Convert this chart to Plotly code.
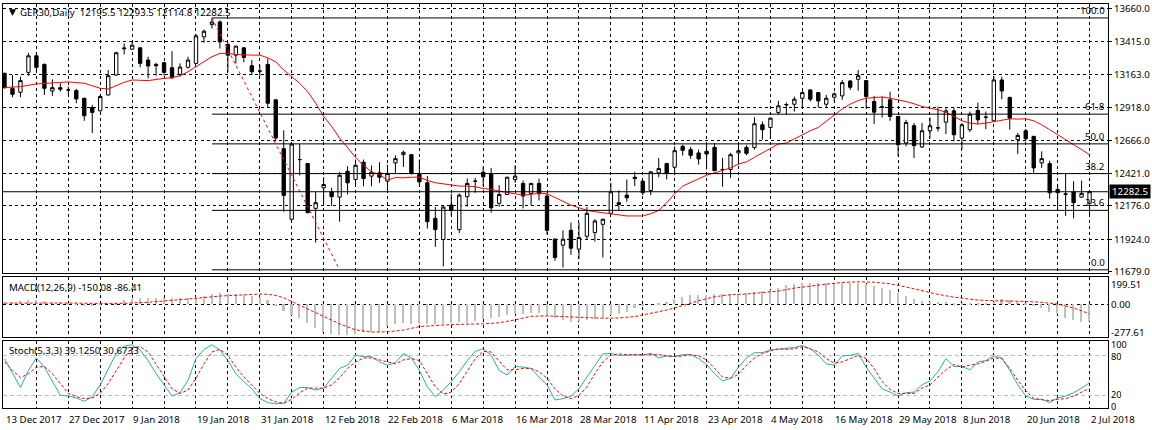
import plotly.graph_objects as go
from plotly.subplots import make_subplots

# ---------------- data ----------------
x_labels = ["13 Dec 2017", "27 Dec 2017", "9 Jan 2018", "19 Jan 2018", "31 Jan 2018",
            "12 Feb 2018", "22 Feb 2018", "6 Mar 2018", "16 Mar 2018", "28 Mar 2018",
            "11 Apr 2018", "23 Apr 2018", "4 May 2018", "16 May 2018", "29 May 2018",
            "8 Jun 2018", "20 Jun 2018", "2 Jul 2018"]
label_bars = [0, 8, 16, 24, 32, 40, 48, 56, 64, 72, 80, 88, 96, 104, 112, 120, 128, 136]

opens = [13175, 13062, 13032, 13182, 13307, 13242, 13042, 13067, 13050, 13045,
         12987, 12917, 12892, 13012, 13162, 13360, 13357, 13367, 13275, 13242,
         13255, 13217, 13167, 13220, 13250, 13450, 13542, 13562, 13392, 13312,
         13367, 13232, 13192, 13242, 12975, 12607, 12075, 12525, 12495, 12157,
         12312, 12280, 12242, 12437, 12375, 12505, 12400, 12425, 12362, 12500,
         12562, 12562, 12412, 12350, 12082, 11922, 12182, 11997, 12245, 12362,
         12430, 12420, 12195, 12262, 12375, 12345, 12270, 12345, 12250, 11925,
         11880, 11992, 11850, 11947, 11975, 12037, 12120, 12200, 12257, 12392,
         12362, 12292, 12425, 12495, 12467, 12625, 12600, 12575, 12587, 12617,
         12450, 12450, 12575, 12617, 12617, 12787, 12767, 12880, 12937, 12942,
         12987, 13050, 13030, 12942, 12995, 13005, 13117, 13130, 13120, 12962,
         12920, 12975, 12850, 12650, 12780, 12620, 12742, 12762, 12807, 12892,
         12687, 12750, 12895, 12842, 12817, 13125, 12992, 12675, 12742, 12700,
         12500, 12495, 12300, 12262, 12282, 12242, 12195.5]
highs = [13180, 13162, 13150, 13330, 13332, 13250, 13130, 13100, 13075, 13057,
         12990, 12937, 13012, 13200, 13337, 13400, 13412, 13370, 13300, 13255,
         13260, 13342, 13250, 13300, 13470, 13505, 13592, 13575, 13407, 13382,
         13370, 13275, 13237, 13287, 12982, 12745, 12645, 12642, 12500, 12282,
         12392, 12312, 12432, 12475, 12525, 12525, 12480, 12505, 12487, 12557,
         12592, 12567, 12525, 12400, 12167, 12182, 12267, 12270, 12382, 12387,
         12470, 12462, 12332, 12395, 12482, 12367, 12350, 12382, 12275, 11932,
         11992, 12050, 12050, 12167, 12075, 12080, 12350, 12292, 12375, 12432,
         12365, 12437, 12537, 12500, 12625, 12637, 12620, 12600, 12650, 12650,
         12537, 12575, 12657, 12632, 12845, 12812, 12842, 12967, 12955, 13000,
         13042, 13052, 13032, 13012, 13032, 13125, 13125, 13200, 13122, 13005,
         13000, 13037, 12855, 12825, 12800, 12800, 12842, 12925, 12912, 12917,
         12800, 12887, 12955, 12887, 13157, 13150, 13000, 12725, 12755, 12702,
         12587, 12517, 12342, 12425, 12362, 12367, 12293.5]
lows = [13060, 12995, 12995, 13157, 13182, 13012, 13005, 13037, 13017, 12950,
        12817, 12725, 12887, 13007, 13157, 13317, 13350, 13220, 13137, 13157,
        13157, 13132, 13150, 13212, 13245, 13405, 13512, 13362, 13182, 13250,
        13257, 13162, 13150, 12917, 12667, 12132, 12067, 12405, 12120, 11900,
        12187, 12175, 12057, 12262, 12337, 12325, 12325, 12350, 12275, 12425,
        12470, 12412, 12325, 12005, 11867, 11720, 12100, 11970, 12170, 12275,
        12325, 12125, 12170, 12257, 12350, 12157, 12182, 12217, 11962, 11762,
        11712, 11807, 11775, 11922, 11907, 11787, 12112, 12142, 12207, 12325,
        12257, 12257, 12392, 12375, 12412, 12555, 12530, 12487, 12450, 12437,
        12320, 12387, 12487, 12557, 12600, 12675, 12687, 12862, 12862, 12887,
        12912, 12962, 12917, 12912, 12962, 12975, 13050, 13045, 12912, 12792,
        12842, 12817, 12550, 12625, 12537, 12612, 12687, 12737, 12717, 12662,
        12600, 12732, 12792, 12755, 12812, 12980, 12750, 12567, 12667, 12425,
        12462, 12230, 12145, 12100, 12082, 12237, 12114.8]
closes = [13067, 13017, 13120, 13307, 13220, 13062, 13067, 13055, 13050, 12982,
          12855, 12880, 13000, 13157, 13330, 13365, 13387, 13250, 13230, 13232,
          13182, 13142, 13222, 13275, 13457, 13492, 13562, 13412, 13312, 13380,
          13295, 13187, 13192, 12950, 12687, 12255, 12642, 12525, 12125, 12200,
          12337, 12245, 12407, 12350, 12482, 12382, 12430, 12392, 12420, 12532,
          12580, 12420, 12357, 12057, 11997, 12167, 12142, 12257, 12345, 12362,
          12395, 12162, 12262, 12392, 12400, 12250, 12345, 12267, 11992, 11787,
          11925, 11857, 11937, 12120, 12062, 12075, 12282, 12187, 12237, 12382,
          12275, 12432, 12457, 12420, 12592, 12595, 12557, 12530, 12567, 12442,
          12450, 12562, 12592, 12572, 12795, 12750, 12837, 12930, 12940, 12980,
          13030, 12980, 12967, 12987, 13020, 13105, 13070, 13157, 13000, 12882,
          12922, 12850, 12637, 12805, 12630, 12742, 12780, 12765, 12892, 12712,
          12787, 12867, 12825, 12845, 13125, 13042, 12837, 12707, 12682, 12462,
          12532, 12275, 12275, 12265, 12200, 12270, 12282.5]

ma_idx = [0, 2, 4, 6, 8, 10, 12, 13, 14, 15, 16, 18, 20, 21, 22, 23, 24, 25, 26, 27,
          28, 29, 30, 31, 32, 33, 34, 35, 36, 37, 38, 39, 40, 41, 42, 43, 44, 45, 46, 47,
          48, 49, 50, 51, 52, 53, 54, 55, 56, 57, 58, 59, 60, 61, 62, 63, 64, 65, 66, 67,
          68, 69, 70, 71, 72, 73, 74, 75, 76, 77, 78, 79, 80, 81, 82, 83, 84, 85, 86, 87,
          88, 89, 90, 91, 92, 93, 94, 95, 96, 97, 98, 99, 100, 101, 102, 103, 104, 105, 106, 107,
          108, 109, 110, 111, 112, 113, 114, 115, 116, 117, 118, 119, 120, 121, 122, 123, 124, 125, 126, 127,
          128, 129, 130, 131, 132, 133, 134, 135, 136]
ma_val = [13067, 13075, 13095, 13105, 13110, 13100, 13062, 13057, 13082, 13107, 13125, 13120, 13137, 13142, 13157, 13187, 13225, 13262, 13300, 13325,
          13325, 13317, 13312, 13312, 13312, 13292, 13262, 13200, 13150, 13100, 13037, 12950, 12850, 12775, 12687, 12612, 12542, 12482, 12432, 12412,
          12370, 12390, 12387, 12392, 12392, 12367, 12350, 12342, 12332, 12325, 12325, 12320, 12307, 12300, 12287, 12275, 12267, 12257, 12262, 12270,
          12267, 12237, 12212, 12182, 12162, 12142, 12132, 12125, 12117, 12112, 12100, 12100, 12100, 12117, 12142, 12200, 12267, 12325, 12350, 12380,
          12407, 12425, 12442, 12462, 12492, 12507, 12542, 12575, 12612, 12642, 12650, 12682, 12712, 12742, 12767, 12812, 12862, 12907, 12942, 12970,
          12987, 12992, 12997, 12987, 12975, 12962, 12945, 12925, 12912, 12900, 12882, 12850, 12817, 12800, 12792, 12800, 12812, 12825, 12832, 12830,
          12832, 12817, 12787, 12750, 12712, 12675, 12637, 12600, 12562]

macd_main = [20, 25, 28, 35, 35, 29, 25, 23, 15, 5,
             -10, -17, -12, 0, 15, 35, 44, 53, 58, 58,
             58, 53, 58, 53, 64, 73, 88, 96, 93, 88,
             79, 73, 64, 35, -10, -60, -93, -117, -160, -210,
             -242, -263, -272, -272, -263, -248, -248, -245, -190, -175,
             -160, -175, -175, -170, -175, -170, -160, -155, -160, -146,
             -131, -117, -111, -96, -88, -82, -79, -79, -102, -123,
             -140, -152, -146, -140, -131, -117, -96, -82, -64, -35,
             -15, 0, 15, 23, 44, 64, 79, 82, 79, 88,
             93, 93, 93, 102, 111, 117, 131, 146, 168, 182,
             190, 190, 190, 190, 184, 190, 190, 190, 181, 160,
             146, 126, 102, 73, 50, 29, 23, 20, 20, 12,
             9, 12, 6, 15, 23, 44, 38, 23, 9, -6,
             -29, -67, -88, -123, -140, -152, -150.08]
signal_idx = [0, 3, 6, 9, 12, 15, 18, 21, 24, 27, 30, 32, 33, 34, 35, 36, 37, 38, 40, 42,
              44, 46, 48, 50, 52, 56, 60, 62, 64, 66, 68, 70, 72, 75, 77, 79, 81, 83, 85, 87,
              89, 91, 93, 95, 97, 99, 101, 103, 105, 107, 109, 111, 113, 115, 117, 119, 120, 122, 124, 126,
              128, 130, 132, 134, 136]
signal_val = [8, 9, 10, 8, 5, 6, 15, 30, 50, 70, 83, 88, 86, 75, 55, 25, -10, -44, -110, -175,
              -228, -248, -245, -230, -199, -181, -175, -165, -140, -108, -105, -108, -117, -126, -123, -111, -82, -53, -15, 29,
              64, 82, 88, 102, 114, 140, 160, 175, 190, 196, 192, 178, 150, 115, 85, 60, 53, 35, 29, 29,
              23, 15, 0, -35, -86.41]

stoch_k = [76, 54, 32, 58, 77, 63, 41, 20, 19, 16,
           11, 18, 36, 61, 84, 95, 97, 89, 73, 53,
           36, 19, 24, 43, 76, 90, 97, 89, 73, 53,
           41, 30, 15, 9, 7, 8, 25, 32, 32, 28,
           31, 46, 61, 66, 81, 79, 79, 71, 66, 70,
           84, 77, 58, 33, 18, 28, 41, 56, 73, 87,
           91, 81, 58, 51, 64, 63, 61, 48, 36, 13,
           15, 19, 30, 48, 66, 83, 84, 81, 81, 82,
           81, 84, 77, 80, 79, 82, 82, 76, 67, 53,
           42, 46, 63, 77, 85, 85, 89, 90, 92, 93,
           96, 91, 81, 68, 66, 80, 81, 84, 63, 46,
           30, 25, 19, 24, 25, 36, 42, 56, 76, 64,
           64, 59, 71, 73, 80, 77, 58, 36, 19, 14,
           14, 9, 16, 19, 24, 31, 39.125]
stoch_d = [71, 58, 47, 53, 63, 64, 53, 38, 23, 18,
           15, 16, 23, 38, 58, 77, 93, 94, 86, 68,
           48, 30, 23, 28, 46, 68, 86, 90, 81, 63,
           48, 36, 23, 15, 10, 8, 14, 24, 31, 31,
           31, 36, 47, 61, 71, 77, 77, 74, 71, 68,
           74, 76, 73, 53, 33, 22, 25, 38, 58, 76,
           87, 86, 72, 59, 59, 61, 61, 56, 46, 30,
           19, 15, 20, 33, 53, 71, 81, 83, 82, 82,
           82, 83, 82, 80, 79, 80, 82, 80, 74, 61,
           48, 46, 52, 66, 77, 84, 87, 91, 90, 91,
           94, 91, 86, 76, 69, 71, 76, 81, 76, 61,
           41, 29, 23, 23, 23, 31, 36, 48, 59, 67,
           63, 66, 68, 72, 77, 76, 61, 43, 27, 15,
           13, 12, 14, 15, 19, 25, 30.6733]

price_ticks = [13660.0, 13415.0, 13163.0, 12918.0, 12666.0, 12421.0, 12176.0, 11924.0, 11679.0]
fib_anchor_idx = [26, 42]
fib_anchor_price = [13592.5, 11694.0]
fib_levels = [100.0, 61.8, 50.0, 38.2, 23.6, 0.0]
last_price = 12282.5
title_text = "GER30,Daily  12195.5 12293.5 12114.8 12282.5"
macd_text = "MACD(12,26,9) -150.08 -86.41"
stoch_text = "Stoch(5,3,3) 39.1250 30.6733"
macd_labels = ["199.51", "0.00", "-277.61"]
stoch_labels = ["100", "80", "20", "0"]

# ---------------- geometry ----------------
W, H = 1152, 430
ML, MR, MT, MB = 2, 42, 2, 22
PW, PH = W - ML - MR, H - MT - MB
n = len(closes)
XR = [-0.1875, -0.1875 + PW / 8.0]
FONT = "Noto Sans"
FS = 9.7


def px2x(px):
    return (px - ML) / PW


def py2y(py):
    return 1 - (py - MT) / PH


main_dom = [py2y(272), 1.0]
macd_dom = [py2y(337), py2y(276)]
stoch_dom = [0.0, py2y(341)]

fig = make_subplots(rows=3, cols=1, shared_xaxes=True, vertical_spacing=0.0)
idx = list(range(n))

fig.add_trace(go.Candlestick(
    x=idx, open=opens, high=highs, low=lows, close=closes,
    increasing=dict(line=dict(color="black", width=1), fillcolor="white"),
    decreasing=dict(line=dict(color="black", width=1), fillcolor="black"),
    whiskerwidth=0, showlegend=False, hoverinfo="skip"), row=1, col=1)

fig.add_trace(go.Scatter(x=ma_idx, y=ma_val, mode="lines",
                         line=dict(color="#FF0000", width=1), showlegend=False,
                         hoverinfo="skip"), row=1, col=1)

# fibonacci
fib_hi, fib_lo = fib_anchor_price
fib_prices = [fib_lo + (fib_hi - fib_lo) * lv / 100.0 for lv in fib_levels]
for lv, p in zip(fib_levels, fib_prices):
    fig.add_trace(go.Scatter(x=[fib_anchor_idx[0], XR[1]], y=[p, p], mode="lines",
                             line=dict(color="black", width=1), showlegend=False,
                             hoverinfo="skip"), row=1, col=1)
fig.add_trace(go.Scatter(x=fib_anchor_idx, y=fib_anchor_price, mode="lines",
                         line=dict(color="#FF0000", width=1, dash="3px,3px"),
                         showlegend=False, hoverinfo="skip"), row=1, col=1)

# MACD
fig.add_trace(go.Bar(x=idx, y=macd_main, width=0.2, marker=dict(color="#C0C0C0", line=dict(width=0)),
                     showlegend=False, hoverinfo="skip"), row=2, col=1)
fig.add_trace(go.Scatter(x=signal_idx, y=signal_val, mode="lines",
                         line=dict(color="#FF0000", width=1, dash="3px,2px"),
                         showlegend=False, hoverinfo="skip"), row=2, col=1)

# Stoch
fig.add_trace(go.Scatter(x=idx, y=stoch_k, mode="lines",
                         line=dict(color="#20B2AA", width=1), showlegend=False,
                         hoverinfo="skip"), row=3, col=1)
fig.add_trace(go.Scatter(x=idx, y=stoch_d, mode="lines",
                         line=dict(color="#FF0000", width=1, dash="3px,2px"),
                         showlegend=False, hoverinfo="skip"), row=3, col=1)

grid_x = list(range(4, n, 4))
xcommon = dict(range=XR, tickvals=grid_x, showticklabels=False, showgrid=True,
               gridcolor="black", griddash="3px,3px", gridwidth=1, zeroline=False,
               showline=True, mirror=True, linecolor="black", linewidth=1, ticks="")
fig.update_xaxes(**xcommon)
fig.update_layout(xaxis_rangeslider_visible=False)

ycommon = dict(side="right", showline=True, mirror=True, linecolor="black", linewidth=1,
               zeroline=False, tickfont=dict(family=FONT, size=FS, color="black"))
fig.update_yaxes(domain=main_dom, range=[11672.5, 13697.5], tickvals=price_ticks,
                 ticktext=["%.1f" % v for v in price_ticks], showgrid=True,
                 gridcolor="black", griddash="3px,3px", ticks="outside", ticklen=3,
                 tickcolor="black", **ycommon, row=1, col=1)
fig.update_yaxes(domain=macd_dom, range=[-293.9, 241.2], tickvals=[0], ticktext=[""],
                 showgrid=True, gridcolor="black", griddash="3px,3px", ticks="",
                 **ycommon, row=2, col=1)
fig.update_yaxes(domain=stoch_dom, range=[0.76, 102.3], tickvals=[20, 80], ticktext=["", ""],
                 showgrid=True, gridcolor="#C0C0C0", griddash="4px,3px", ticks="",
                 **ycommon, row=3, col=1)

annotations = []
tfont = dict(family=FONT, size=FS, color="black")
# title
annotations.append(dict(xref="paper", yref="paper", x=px2x(6), y=py2y(10.5), text="▼",
                        showarrow=False, xanchor="left", yanchor="middle",
                        font=dict(family="DejaVu Sans", size=9, color="black")))
annotations.append(dict(xref="paper", yref="paper", x=px2x(17), y=py2y(10.5), text=title_text,
                        showarrow=False, xanchor="left", yanchor="middle", font=tfont))
annotations.append(dict(xref="paper", yref="paper", x=px2x(6), y=py2y(286.5), text=macd_text,
                        showarrow=False, xanchor="left", yanchor="middle", font=tfont))
annotations.append(dict(xref="paper", yref="paper", x=px2x(6), y=py2y(350), text=stoch_text,
                        showarrow=False, xanchor="left", yanchor="middle", font=tfont))
# fib labels
for lv, p in zip(fib_levels, fib_prices):
    annotations.append(dict(xref="x", yref="y", x=XR[1] - 0.25, y=p, text="%.1f" % lv,
                            showarrow=False, xanchor="right", yanchor="bottom",
                            borderpad=0, yshift=0, font=tfont))
# last price box
annotations.append(dict(xref="paper", yref="y", x=1.0, y=last_price, text="%.1f" % last_price,
                        showarrow=False, xanchor="left", yanchor="middle", bgcolor="black",
                        width=40, height=13, borderpad=0, xshift=1,
                        font=dict(family=FONT, size=FS, color="white")))
# macd labels
for t, py in zip(macd_labels, [283.5, 303.5, 332]):
    annotations.append(dict(xref="paper", yref="paper", x=px2x(1112), y=py2y(py), text=t,
                            showarrow=False, xanchor="left", yanchor="middle", borderpad=0,
                            font=tfont))
# stoch labels (slightly separated so they do not overlap)
for t, py in zip(stoch_labels, [344.5, 356.5, 394, 406]):
    annotations.append(dict(xref="paper", yref="paper", x=px2x(1112), y=py2y(py), text=t,
                            showarrow=False, xanchor="left", yanchor="middle", borderpad=0,
                            height=11, font=dict(family=FONT, size=9.2, color="black")))
# x labels
for b, t in zip(label_bars, x_labels):
    annotations.append(dict(xref="x3", yref="paper", x=b, y=0, text=t, showarrow=False,
                            xanchor="left", yanchor="top", xshift=-1, yshift=-3, font=tfont))

shapes = [dict(type="line", xref="x domain", yref="y", x0=0, x1=1, y0=last_price, y1=last_price,
               line=dict(color="black", width=1))]

fig.update_layout(width=W, height=H, margin=dict(l=ML, r=MR, t=MT, b=MB),
                  paper_bgcolor="white", plot_bgcolor="white", boxgap=0.4,
                  annotations=annotations, shapes=shapes, bargap=0,
                  font=dict(family=FONT, size=FS, color="black"), showlegend=False)

fig.write_html("out.html")
